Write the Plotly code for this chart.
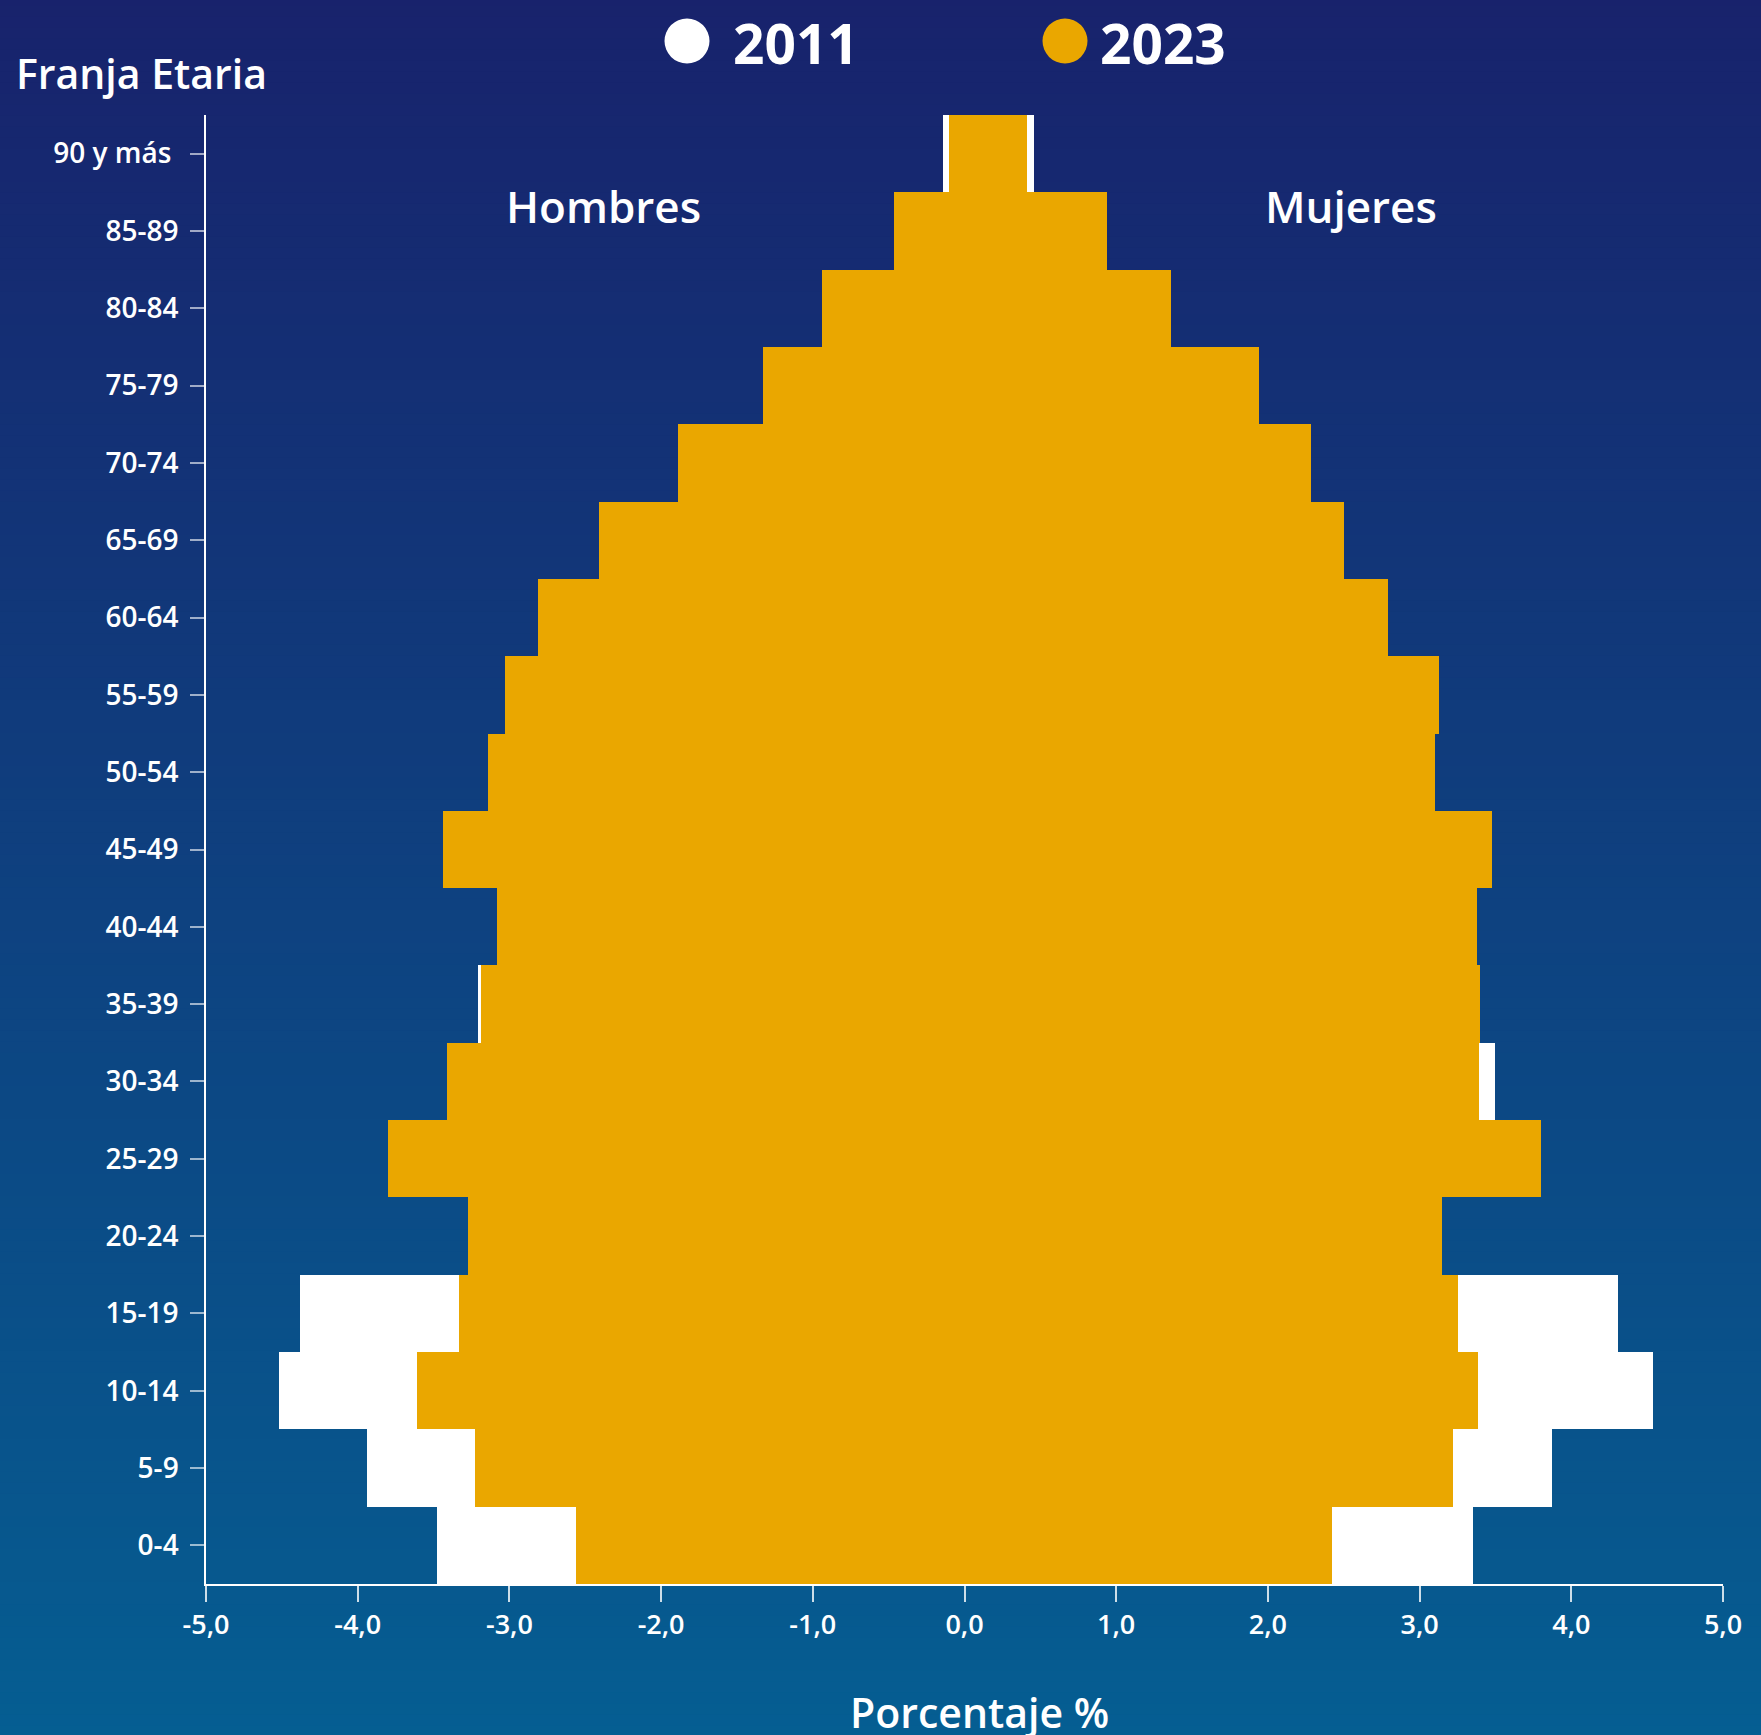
import plotly.graph_objects as go

# ---------------- data ----------------
age_groups = ["0-4", "5-9", "10-14", "15-19", "20-24", "25-29", "30-34", "35-39",
              "40-44", "45-49", "50-54", "55-59", "60-64", "65-69", "70-74",
              "75-79", "80-84", "85-89", "90 y más\u00a0"]

hombres_2011 = [3.48, 3.94, 4.52, 4.38, 3.20, 3.55, 3.35, 3.21, 3.05, 3.16,
                2.85, 2.60, 2.35, 1.975, 1.54, 1.05, 0.63, 0.31, 0.14]
mujeres_2011 = [3.35, 3.87, 4.54, 4.31, 3.10, 3.26, 3.50, 3.35, 3.30, 3.25,
                3.00, 2.75, 2.57, 2.20, 1.90, 1.51, 1.12, 0.684, 0.455]
hombres_2023 = [2.56, 3.23, 3.61, 3.33, 3.27, 3.80, 3.41, 3.19, 3.08, 3.44,
                3.14, 3.03, 2.81, 2.41, 1.89, 1.33, 0.94, 0.465, 0.10]
mujeres_2023 = [2.425, 3.22, 3.385, 3.25, 3.145, 3.80, 3.39, 3.40, 3.38, 3.475,
                3.10, 3.13, 2.79, 2.50, 2.285, 1.94, 1.36, 0.938, 0.413]

x_tickvals = [-5, -4, -3, -2, -1, 0, 1, 2, 3, 4, 5]
x_ticktext = ["-5,0", "-4,0", "-3,0", "-2,0", "-1,0", "0,0", "1,0", "2,0", "3,0", "4,0", "5,0"]

series_labels = ["2011", "2023"]
side_labels = ["Hombres", "Mujeres"]

# ---------------- styling ----------------
W, H = 1761, 1735
ML, MR, MT, MB = 206, 38, 115, 151
PW, PH = W - ML - MR, H - MT - MB
WHITE = "#FFFFFF"
ORANGE = "#EAA700"
TOP_RGB = (24, 34, 108)
BOT_RGB = (5, 94, 146)
FONT = "Open Sans"


def px(xp):
    return (xp - ML) / PW


def py(yp):
    return (H - MB - yp) / PH


fig = go.Figure()

# 2011 (white, behind)
fig.add_trace(go.Bar(y=age_groups, x=[-v for v in hombres_2011], orientation="h",
                     marker=dict(color=WHITE, line=dict(width=0)), showlegend=False))
fig.add_trace(go.Bar(y=age_groups, x=mujeres_2011, orientation="h",
                     marker=dict(color=WHITE, line=dict(width=0)), showlegend=False))
# 2023 (orange, front)
fig.add_trace(go.Bar(y=age_groups, x=[-v for v in hombres_2023], orientation="h",
                     marker=dict(color=ORANGE, line=dict(width=0)), showlegend=False))
fig.add_trace(go.Bar(y=age_groups, x=mujeres_2023, orientation="h",
                     marker=dict(color=ORANGE, line=dict(width=0)), showlegend=False))

# ---------------- background gradient ----------------
shapes = []
N = 160
y_top, y_bot = py(0) + 0.01, py(H) - 0.01
for i in range(N):
    t = i / (N - 1)
    r = round(TOP_RGB[0] + (BOT_RGB[0] - TOP_RGB[0]) * t)
    g = round(TOP_RGB[1] + (BOT_RGB[1] - TOP_RGB[1]) * t)
    b = round(TOP_RGB[2] + (BOT_RGB[2] - TOP_RGB[2]) * t)
    y0 = y_top + (y_bot - y_top) * i / N
    y1 = y_top + (y_bot - y_top) * (i + 1) / N
    shapes.append(dict(type="rect", xref="paper", yref="paper",
                       x0=px(-10), x1=px(W + 10), y0=y0 + 0.0015, y1=y1 - 0.0015,
                       fillcolor=f"rgb({r},{g},{b})", line=dict(width=0), layer="below"))

# legend circles
for cx, col in [(687, WHITE), (1065, ORANGE)]:
    shapes.append(dict(type="circle", xref="paper", yref="paper",
                       xsizemode="pixel", ysizemode="pixel",
                       xanchor=px(cx), yanchor=py(41),
                       x0=-22.5, x1=22.5, y0=-22.5, y1=22.5,
                       fillcolor=col, line=dict(width=0), layer="above"))

annotations = [
    dict(text=series_labels[0], x=px(731), y=py(42), xanchor="left", yanchor="middle",
         font=dict(family=FONT, size=55, color=WHITE, weight=700)),
    dict(text=series_labels[1], x=px(1098), y=py(42), xanchor="left", yanchor="middle",
         font=dict(family=FONT, size=55, color=WHITE, weight=700)),
    dict(text="Franja Etaria", x=px(14), y=py(73), xanchor="left", yanchor="middle",
         font=dict(family=FONT, size=41, color=WHITE, weight=600)),
    dict(text=side_labels[0], x=px(603), y=py(206), xanchor="center", yanchor="middle",
         font=dict(family=FONT, size=44, color=WHITE, weight=600)),
    dict(text=side_labels[1], x=px(1351), y=py(206), xanchor="center", yanchor="middle",
         font=dict(family=FONT, size=44, color=WHITE, weight=600)),
    dict(text="Porcentaje %", x=px(979), y=py(1712), xanchor="center", yanchor="middle",
         font=dict(family=FONT, size=41, color=WHITE, weight=600)),
]
for a in annotations:
    a.update(xref="paper", yref="paper", showarrow=False)

fig.update_layout(
    width=W, height=H,
    margin=dict(l=ML, r=MR, t=MT, b=MB, pad=0),
    paper_bgcolor="rgb(14,64,127)",
    plot_bgcolor="rgba(0,0,0,0)",
    barmode="overlay", bargap=0,
    shapes=shapes, annotations=annotations,
    showlegend=False,
    font=dict(family=FONT, color=WHITE),
    xaxis=dict(range=[-5, 5], tickvals=x_tickvals, ticktext=x_ticktext,
               showgrid=False, zeroline=False, showline=True, linecolor=WHITE, linewidth=1.5,
               ticks="outside", ticklen=16, tickwidth=1.5, tickcolor="rgba(255,255,255,0.8)",
               tickfont=dict(family=FONT, size=27, color=WHITE, weight=600),
               fixedrange=True),
    yaxis=dict(type="category", categoryorder="array", categoryarray=age_groups,
               range=[-0.5, len(age_groups) - 0.5],
               showgrid=False, zeroline=False, showline=True, linecolor=WHITE, linewidth=1.5,
               ticks="outside", ticklen=14, tickwidth=1.5, tickcolor="rgba(255,255,255,0.6)",
               tickfont=dict(family=FONT, size=28, color=WHITE, weight=600),
               ticklabelstandoff=6, fixedrange=True),
)

fig.write_html("out.html", config={"displayModeBar": False},
               post_script="document.body.style.margin='0';document.body.style.padding='0';"
                           "document.documentElement.style.overflow='hidden';")
